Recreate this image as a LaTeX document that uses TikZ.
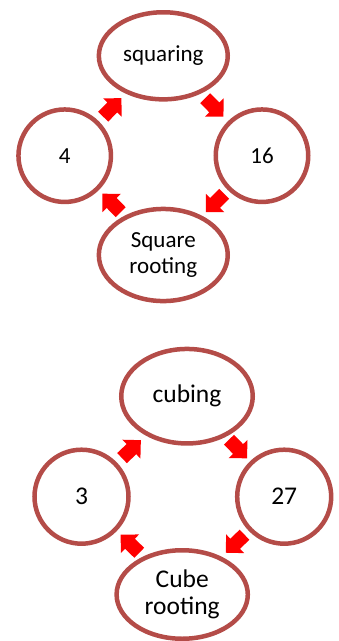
\documentclass[tikz,border=0pt]{standalone}
\usepackage{fontspec}
\setmainfont{Carlito}
\usetikzlibrary{shapes.geometric}
\definecolor{ringred}{RGB}{180,76,72}
\definecolor{arrowred}{RGB}{255,0,0}
\tikzset{
  ring/.style={draw=ringred, line width=4.5pt, fill=white, inner sep=0pt, align=center, text=black},
  ovalA/.style={ring, ellipse, minimum width=128.9pt, minimum height=87.1pt, font=\fontsize{23}{25.7}\selectfont},
  ovalB/.style={ring, ellipse, minimum width=128.9pt, minimum height=92.1pt, font=\fontsize{23}{25.7}\selectfont},
  roundA/.style={ring, circle, minimum size=92.5pt, font=\fontsize{23}{25.7}\selectfont},
  ovalC/.style={ring, ellipse, minimum width=131.5pt, minimum height=94.5pt, font=\fontsize{25.5}{26.7}\selectfont},
  ovalD/.style={ring, ellipse, minimum width=131.2pt, minimum height=88.5pt, font=\fontsize{25.5}{26.7}\selectfont},
  roundB/.style={ring, circle, minimum size=94pt, font=\fontsize{25.5}{26.7}\selectfont},
  arrowpos/.style={midway, sloped, allow upside down},
  barrow/.pic={\fill[arrowred] (-13,7) -- (0,7) -- (0,13) -- (13,0) -- (0,-13) -- (0,-7) -- (-13,-7) -- cycle;}
}
\begin{document}
\begin{tikzpicture}[x=1pt,y=1pt]
\useasboundingbox (0,0) rectangle (339,-641);
% top cycle
\node[ovalA]  (sq)   at (163.3,-55.8)  {squaring};
\node[roundA] (four) at (64.7,-155.7)  {4};
\node[roundA] (sixt) at (262,-155.7)   {16};
\node[ovalB]  (sqr)  at (163.3,-255)   {Square\\rooting};
\path (four) -- pic[arrowpos]{barrow} (sq);
\path (sq) -- pic[arrowpos]{barrow} (sixt);
\path (sixt) -- pic[arrowpos]{barrow} (sqr);
\path (sqr) -- pic[arrowpos]{barrow} (four);
% bottom cycle
\node[ovalC]  (cub)   at (187,-396.2)   {cubing};
\node[roundB] (three) at (81.5,-496.7)  {3};
\node[roundB] (tsev)  at (284.2,-496.7) {27};
\node[ovalD]  (cubr)  at (182.2,-594.5) {Cube\\rooting};
\path (three) -- pic[arrowpos]{barrow} (cub);
\path (cub) -- pic[arrowpos]{barrow} (tsev);
\path (tsev) -- pic[arrowpos]{barrow} (cubr);
\path (cubr) -- pic[arrowpos]{barrow} (three);
\end{tikzpicture}
\end{document}
